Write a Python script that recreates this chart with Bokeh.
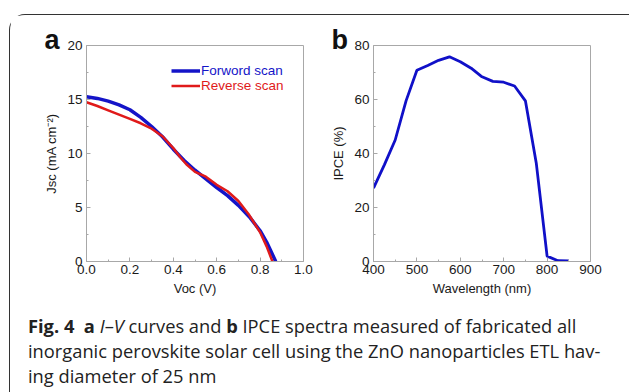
from bokeh.plotting import figure
from bokeh.layouts import column, row
from bokeh.models import Div, Legend, LegendItem, FixedTicker, CustomJSTickFormatter
from bokeh.embed import file_html
from bokeh.resources import INLINE

# ---- data panel a (I-V curves) ----
fwd_v = [0.0, 0.05, 0.1, 0.15, 0.2, 0.25, 0.3, 0.35, 0.4, 0.45, 0.5, 0.55, 0.6, 0.65, 0.7, 0.75, 0.8, 0.83, 0.85, 0.872]
fwd_j = [15.25, 15.1, 14.85, 14.5, 14.05, 13.35, 12.5, 11.55, 10.4, 9.35, 8.45, 7.65, 6.85, 6.1, 5.2, 4.15, 2.85, 1.8, 0.95, 0.0]
rev_v = [0.0, 0.05, 0.1, 0.15, 0.2, 0.25, 0.3, 0.35, 0.4, 0.43, 0.46, 0.5, 0.55, 0.6, 0.65, 0.7, 0.75, 0.8, 0.83, 0.857]
rev_j = [14.75, 14.4, 14.0, 13.6, 13.2, 12.8, 12.3, 11.6, 10.5, 9.7, 9.0, 8.3, 7.85, 7.1, 6.5, 5.6, 4.3, 2.7, 1.4, 0.0]

# ---- data panel b (IPCE) ----
wl = [400, 425, 450, 475, 500, 525, 550, 575, 600, 625, 650, 675, 700, 725, 750, 775, 800, 825, 850]
ipce = [27.2, 35.8, 45.0, 59.5, 70.8, 72.6, 74.5, 75.8, 74.0, 71.6, 68.4, 66.7, 66.4, 65.0, 59.5, 36.5, 2.0, 0.3, 0.2]

labels_a = ["Forword scan", "Reverse scan"]
xlabel_a = "Voc (V)"
ylabel_a = "Jsc (mA cm\u207b\u00b2)"
xlabel_b = "Wavelength (nm)"
ylabel_b = "IPCE (%)"

BLUE = "#1414c8"
RED = "#e01a1a"
FRAME = "#a8a8a8"
TXT = "#1a1a1a"
FONT = "Liberation Sans"


def style(p, xt, yt, letter, off):
    p.outline_line_color = FRAME
    p.outline_line_width = 1
    p.grid.visible = False
    p.background_fill_color = "white"
    p.border_fill_color = "white"
    for ax in (p.xaxis[0], p.yaxis[0]):
        ax.axis_line_color = FRAME
        ax.major_tick_line_color = FRAME
        ax.minor_tick_line_color = FRAME
        ax.major_tick_in = 4
        ax.major_tick_out = 0
        ax.minor_tick_in = 2
        ax.minor_tick_out = 0
        ax.major_label_text_font = FONT
        ax.major_label_text_font_size = "13.5px"
        ax.major_label_text_color = TXT
        ax.axis_label_text_font = FONT
        ax.axis_label_text_font_size = "13px"
        ax.axis_label_text_font_style = "normal"
        ax.axis_label_text_color = TXT
    p.xaxis[0].ticker = FixedTicker(ticks=xt[0], minor_ticks=xt[1])
    p.yaxis[0].ticker = FixedTicker(ticks=yt[0], minor_ticks=yt[1])
    p.xaxis[0].major_label_standoff = 3
    p.yaxis[0].major_label_standoff = 4
    p.xaxis[0].axis_label_standoff = 4
    p.yaxis[0].axis_label_standoff = 5
    p.title.text = letter
    p.title.align = "left"
    p.title.offset = off
    p.title.standoff = -18
    p.title.text_font = FONT
    p.title.text_font_style = "bold"
    p.title.text_font_size = "27px"
    p.title.text_color = "#111"
    p.title.text_line_height = 0.8


H = 289
pa = figure(width=306, height=H, x_range=(0, 1.0), y_range=(0, 20),
            output_backend="svg", toolbar_location=None,
            min_border_left=76, min_border_right=13, min_border_top=30, min_border_bottom=43)
pa.xaxis.axis_label = xlabel_a
pa.yaxis.axis_label = ylabel_a
style(pa, ([0, 0.2, 0.4, 0.6, 0.8, 1.0], [0.1, 0.3, 0.5, 0.7, 0.9]),
      ([0, 5, 10, 15, 20], [2.5, 7.5, 12.5, 17.5]), "a", -42)
pa.xaxis[0].formatter = CustomJSTickFormatter(code="return tick.toFixed(1);")

r_f = pa.line(fwd_v, fwd_j, line_color=BLUE, line_width=3.5)
r_r = pa.line(rev_v, rev_j, line_color=RED, line_width=2.5)

for lbl, rend, col, yb in ((labels_a[0], r_f, BLUE, 183), (labels_a[1], r_r, RED, 168)):
    lg = Legend(items=[LegendItem(label=lbl, renderers=[rend])], location=(85, yb),
                padding=0, margin=0, spacing=0, glyph_width=29, glyph_height=15,
                label_height=15, label_standoff=1, border_line_alpha=0,
                background_fill_alpha=0, label_text_font=FONT,
                label_text_font_size="13.5px", label_text_color=col)
    pa.add_layout(lg)

pb = figure(width=314, height=H, x_range=(400, 900), y_range=(0, 80),
            output_backend="svg", toolbar_location=None,
            min_border_left=57, min_border_right=40, min_border_top=30, min_border_bottom=43)
pb.xaxis.axis_label = xlabel_b
pb.yaxis.axis_label = ylabel_b
style(pb, ([400, 500, 600, 700, 800, 900], [450, 550, 650, 750, 850]),
      ([0, 20, 40, 60, 80], [10, 30, 50, 70]), "b", -42)
pb.line(wl, ipce, line_color="#1010c8", line_width=2.8)

cap_html = ("<div style='font-family:\"Open Sans\";font-size:18.3px;line-height:25px;color:#222;"
            "padding:4px 0 0 13px;white-space:nowrap'>"
            "<b>Fig.&nbsp;4</b>&nbsp;&nbsp;<b>a</b> <i>I</i>–<i>V</i> curves and <b>b</b> IPCE spectra "
            "measured of fabricated all<br>inorganic perovskite solar cell using the ZnO "
            "nanoparticles ETL hav-<br>ing diameter of 25 nm</div>")
cap = Div(text=cap_html, width=620, height=89)

lay = column(row(pa, pb), cap,
             styles={"border-top": "1.3px solid #333", "border-left": "1.3px solid #333",
                     "border-top-left-radius": "16px", "margin-left": "9px", "margin-top": "14px",
                     "background": "white"})

open("out.html", "w").write(file_html(lay, INLINE))
